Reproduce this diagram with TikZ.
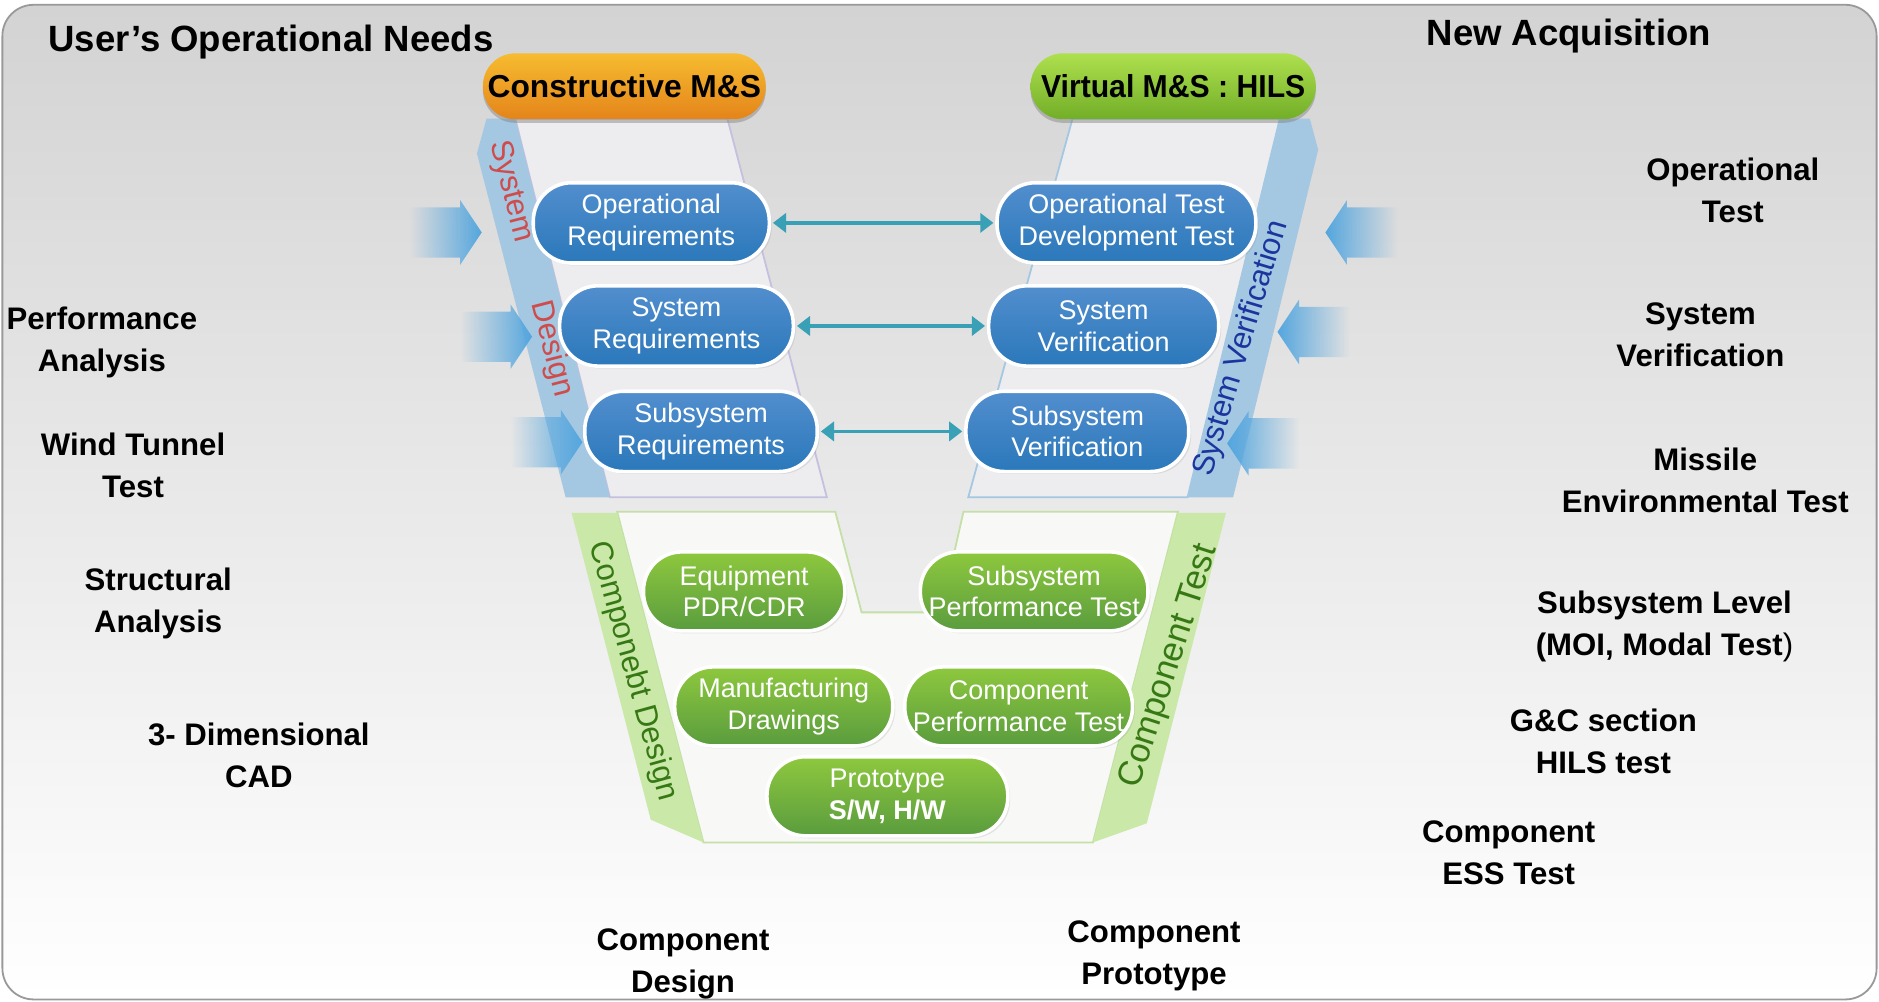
\documentclass[tikz,border=0pt]{standalone}
\usepackage{fontspec}
\setmainfont{Liberation Sans}
\usepackage{xcolor}
\usepackage{tikz}
\usetikzlibrary{arrows.meta,positioning,fadings,shadows}

\definecolor{fundoTopo}{RGB}{211,211,211}
\definecolor{azulTopo}{RGB}{82,142,206}
\definecolor{azulBase}{RGB}{42,120,186}
\definecolor{verdeTopo}{RGB}{142,200,62}
\definecolor{verdeBase}{RGB}{90,156,62}
\definecolor{laranjaTopo}{RGB}{246,188,48}
\definecolor{laranjaBase}{RGB}{228,132,26}
\definecolor{limaTopo}{RGB}{174,224,78}
\definecolor{limaBase}{RGB}{114,174,40}
\definecolor{faixaAzul}{RGB}{164,199,226}
\definecolor{faixaVerde}{RGB}{202,232,168}
\definecolor{setaAzul}{RGB}{84,166,222}
\definecolor{setaTeal}{RGB}{58,160,182}
\definecolor{textoVermelho}{RGB}{206,76,76}
\definecolor{textoAzul}{RGB}{26,54,158}
\definecolor{textoVerde}{RGB}{54,120,20}
\definecolor{painel}{RGB}{237,237,240}
\definecolor{painelVerde}{RGB}{248,249,247}
\definecolor{bordaPainel}{RGB}{196,192,222}
\definecolor{bordaVerde}{RGB}{196,224,166}

\tikzfading[name=ponteiraLeste, left color=transparent!100, right color=transparent!0]
\tikzfading[name=ponteiraOeste, left color=transparent!0, right color=transparent!100]

\tikzset{
    pilula/.style={
        rectangle,
        draw=white,
        line width=3pt,
        rounded corners=32pt,
        align=center,
        text=white,
        inner xsep=2pt,
        minimum height=67pt,
        font=\fontsize{22.5}{26.5}\selectfont,
        drop shadow={opacity=0.18, shadow xshift=2pt, shadow yshift=-2pt}
    },
    pilulaAzul/.style={pilula, top color=azulTopo, bottom color=azulBase},
    pilulaVerde/.style={pilula, top color=verdeTopo, bottom color=verdeBase, minimum height=66pt},
    cabecalho/.style={
        rectangle,
        rounded corners=27pt,
        minimum height=55pt,
        align=center,
        font=\fontsize{26.5}{30}\selectfont\bfseries,
        drop shadow={opacity=0.45, shadow xshift=0pt, shadow yshift=-3pt}
    },
    titulo/.style={font=\fontsize{30.5}{34}\selectfont\bfseries},
    rotulo/.style={align=center, font=\fontsize{26}{35}\selectfont\bfseries},
    faixaTexto/.style={font=\fontsize{26}{30}\selectfont, inner sep=0pt},
    fluxo/.style={{Triangle[length=11pt,width=16pt]}-{Triangle[length=11pt,width=16pt]},
        line width=3pt, draw=setaTeal, shorten <=1.5pt, shorten >=1.5pt}
}

\begin{document}
\begin{tikzpicture}[x=1pt, y=1pt]
    \useasboundingbox (0,0) rectangle (1568,-836);

    % fundo
    \shade[top color=fundoTopo, bottom color=white, rounded corners=26pt]
        (2,-4) rectangle (1566,-834);
    \draw[black!40, line width=1.5pt, rounded corners=26pt]
        (2,-4) rectangle (1566,-834);

    % paineis do V
    \filldraw[fill=painel, draw=bordaPainel, line width=1.5pt]
        (430,-99) -- (607,-99) -- (690,-415) -- (509,-415) -- cycle;
    \filldraw[fill=painel, draw=faixaAzul, line width=1.5pt]
        (895,-99) -- (1068,-99) -- (991,-415) -- (808,-415) -- cycle;
    \filldraw[fill=painelVerde, draw=bordaVerde, line width=1.5pt]
        (515,-427) -- (697,-427) -- (719,-511) -- (785,-511) -- (804,-427)
        -- (983,-427) -- (912,-703) -- (587,-703) -- cycle;

    % faixas laterais
    \fill[faixaAzul] (406,-99) -- (430,-99) -- (509,-415) -- (472,-415) -- (398,-128) -- cycle;
    \fill[faixaAzul] (1068,-99) -- (1093,-99) -- (1100,-125) -- (1029,-415) -- (991,-415) -- cycle;
    \fill[faixaVerde] (477,-428) -- (515,-428) -- (587,-703) -- (543,-684) -- cycle;
    \fill[faixaVerde] (983,-428) -- (1023,-428) -- (957,-687) -- (912,-703) -- cycle;

    \node[faixaTexto, text=textoVermelho, rotate=-75.5] (sysdes) at (443,-224)
        {System\hspace{2em}Design};
    \node[faixaTexto, text=textoAzul, rotate=73.3] (sysverif) at (1036,-291)
        {System Verification};
    \node[faixaTexto, text=textoVerde, rotate=-74.6] (compdesign) at (528,-560)
        {Componebt Design};
    \node[faixaTexto, text=textoVerde, rotate=72, font=\fontsize{29}{32}\selectfont] (comptest)
        at (976,-556) {Component Test};

    % setas de entrada
    \foreach \tx/\ty in {402/194, 444/281, 486/369}
        \fill[setaAzul, path fading=ponteiraLeste]
            (\tx-60,-\ty+21) -- (\tx-18,-\ty+21) -- (\tx-18,-\ty+27) -- (\tx,-\ty)
            -- (\tx-18,-\ty-27) -- (\tx-18,-\ty-21) -- (\tx-60,-\ty-21) -- cycle;
    \foreach \tx/\ty in {1106/194, 1066/277, 1024/370}
        \fill[setaAzul, path fading=ponteiraOeste]
            (\tx+60,-\ty+21) -- (\tx+18,-\ty+21) -- (\tx+18,-\ty+27) -- (\tx,-\ty)
            -- (\tx+18,-\ty-27) -- (\tx+18,-\ty-21) -- (\tx+60,-\ty-21) -- cycle;

    % cabecalhos
    \node[cabecalho, top color=laranjaTopo, bottom color=laranjaBase, minimum width=236pt]
        (constr) at (521,-72) {Constructive M\&S};
    \node[cabecalho, top color=limaTopo, bottom color=limaBase, minimum width=238pt]
        (virt) at (979,-72) {\scalebox{0.95}[1]{Virtual M\&S : HILS}};

    % nivel de sistema
    \node[pilulaAzul, minimum width=197pt] (opreq) at (543.5,-186)
        {Operational\\Requirements};
    \node[pilulaAzul, minimum width=216pt] (optest) at (940,-186)
        {Operational Test\\Development Test};
    \node[pilulaAzul, minimum width=195pt] (sysreq) at (564.5,-272)
        {System\\Requirements};
    \node[pilulaAzul, minimum width=192pt] (sysver) at (921,-272)
        {System\\Verification};
    \node[pilulaAzul, minimum width=194pt] (subreq) at (585,-360)
        {Subsystem\\Requirements};
    \node[pilulaAzul, minimum width=186pt] (subver) at (899,-360)
        {Subsystem\\Verification};

    % nivel de componente
    \node[pilulaVerde, minimum width=168pt] (equip) at (621,-493.5)
        {Equipment\\PDR/CDR};
    \node[pilulaVerde, minimum width=190pt] (subperf) at (863,-493.5)
        {Subsystem\\Performance Test};
    \node[pilulaVerde, minimum width=182pt] (manuf) at (654,-589.5)
        {Manufacturing\\Drawings};
    \node[pilulaVerde, minimum width=190pt] (compperf) at (850,-589.5)
        {Component\\Performance Test};
    \node[pilulaVerde, minimum width=201pt] (proto) at (740.5,-664.5)
        {Prototype\\\textbf{S/W, H/W}};

    \draw[fluxo] (opreq) -- (optest);
    \draw[fluxo] (sysreq) -- (sysver);
    \draw[fluxo] (subreq) -- (subver);

    % titulos
    \node[titulo, anchor=base west] (needs) at (37,-43) {User’s Operational Needs};
    \node[titulo, anchor=base west] (acq) at (1187,-38) {New Acquisition};

    % rotulos da esquerda
    \node[rotulo] (perf) at (85,-285.5) {Performance\\Analysis};
    \node[rotulo] (wind) at (111,-388) {Wind Tunnel\\Test};
    \node[rotulo] (struct) at (132,-503.5) {Structural\\Analysis};
    \node[rotulo] (cad) at (216,-630.5) {3- Dimensional\\CAD};

    % rotulos da direita
    \node[rotulo] (optestlbl) at (1446,-158.5) {Operational\\Test};
    \node[rotulo] (sysverlbl) at (1419,-279.5) {System\\Verification};
    \node[rotulo] (missile) at (1423,-401) {Missile\\Environmental Test};
    \node[rotulo] (sublevel) at (1389,-523) {Subsystem Level\\(MOI, Modal Test{\mdseries )}};
    \node[rotulo] (gnc) at (1338,-618.5) {G\&C section\\HILS test};
    \node[rotulo] (ess) at (1259,-712) {Component\\ESS Test};

    % rotulos de baixo
    \node[rotulo] (compdes) at (570,-804.5) {Component\\Design};
    \node[rotulo] (compproto) at (963,-797.5) {Component\\Prototype};
\end{tikzpicture}
\end{document}
